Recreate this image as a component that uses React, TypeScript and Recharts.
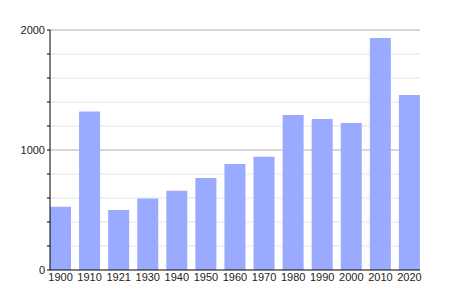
import { BarChart, Bar, XAxis, YAxis, CartesianGrid } from "recharts";

const years = ["1900", "1910", "1921", "1930", "1940", "1950", "1960", "1970", "1980", "1990", "2000", "2010", "2020"];
const population = [528, 1320, 500, 595, 661, 767, 883, 944, 1292, 1258, 1225, 1933, 1458];
const yTicks = [0, 200, 400, 600, 800, 1000, 1200, 1400, 1600, 1800, 2000];
const labelledTicks = [0, 1000, 2000];
const minorLines = [200, 400, 600, 800, 1200, 1400, 1600, 1800];
const majorLines = [1000, 2000];

const data = years.map((year, i) => ({ year, value: population[i] }));

export default function App() {
  return (
    <div style={{ position: "absolute", left: 0, top: 0, width: 450, height: 300, background: "#fff" }}>
      <BarChart
        width={450}
        height={300}
        data={data}
        margin={{ top: 30, right: 30, bottom: 0, left: 0 }}
        barSize={21}
      >
        <CartesianGrid vertical={false} horizontalValues={minorLines} stroke="#e4e4e4" />
        <CartesianGrid vertical={false} horizontalValues={majorLines} stroke="#b0b0b0" />
        <XAxis
          dataKey="year"
          height={30}
          tickLine={false}
          tickSize={0}
          tickMargin={3}
          axisLine={{ stroke: "#000" }}
          padding={{ left: -4, right: -4 }}
          interval={0}
          tick={{ fill: "#222", fontSize: 11, fontFamily: "Arial, Liberation Sans, sans-serif" }}
        />
        <YAxis
          width={50}
          domain={[0, 2000]}
          ticks={yTicks}
          interval={0}
          tickSize={3}
          tickLine={{ stroke: "#000" }}
          axisLine={{ stroke: "#000" }}
          tickFormatter={(v: number) => (labelledTicks.includes(v) ? String(v) : "")}
          tick={{ fill: "#222", fontSize: 11, fontFamily: "Arial, Liberation Sans, sans-serif" }}
        />
        <Bar dataKey="value" fill="#99aaff" isAnimationActive={false} />
      </BarChart>
    </div>
  );
}
